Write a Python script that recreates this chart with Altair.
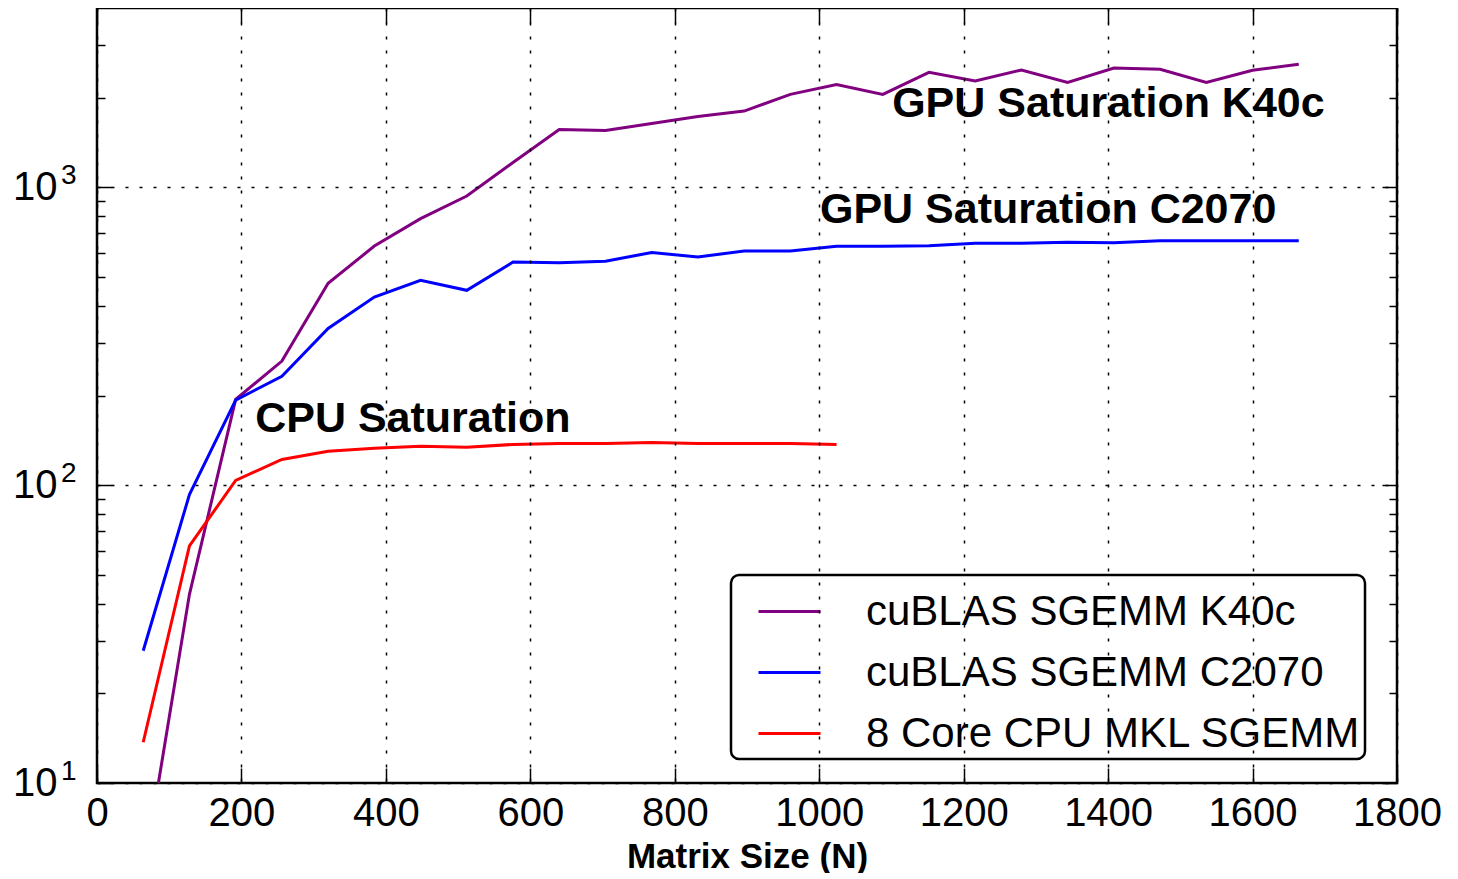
import altair as alt
import pandas as pd

# ---- data ----
sizes = [64, 128, 192, 256, 320, 384, 448, 512, 576, 640, 704, 768, 832, 896, 960,
         1024, 1088, 1152, 1216, 1280, 1344, 1408, 1472, 1536, 1600, 1664]
k40c = [4.9, 43, 194, 261, 476, 635, 785, 935, 1211, 1563, 1552, 1637, 1730, 1803, 2051,
        2212, 2051, 2432, 2275, 2477, 2249, 2515, 2490, 2249, 2472, 2588]
c2070 = [27.8, 93, 193, 232, 336, 428, 487, 451, 561, 558, 565, 604, 584, 611, 611,
         634, 634, 636, 649, 649, 654, 652, 661, 661, 662, 661]
cpu_sizes = [64, 128, 192, 256, 320, 384, 448, 512, 576, 640, 704, 768, 832, 896, 960, 1024]
cpu = [13.7, 62.5, 103.7, 122, 130, 133, 135, 134, 137, 138, 138, 139, 138, 138, 138, 137]

series_names = ["cuBLAS SGEMM K40c", "cuBLAS SGEMM C2070", "8 Core CPU MKL SGEMM"]
series_colors = ["#800080", "#0000ff", "#ff0000"]

x_ticks = [0, 200, 400, 600, 800, 1000, 1200, 1400, 1600, 1800]
y_major = [10, 100, 1000]
y_minor = [20, 30, 40, 50, 60, 70, 80, 90, 200, 300, 400, 500, 600, 700, 800, 900, 2000, 3000]

ann_text = ["GPU Saturation K40c", "GPU Saturation C2070", "CPU Saturation"]
ann_x = [1101, 1001, 219]
ann_y = [1718, 757, 151]

# ---- tables ----
rows = []
for name, xs_, vals in zip(series_names, [sizes, sizes, cpu_sizes], [k40c, c2070, cpu]):
    for n, v in zip(xs_, vals):
        rows.append({"N": n, "G": v, "series": name})
df = pd.DataFrame(rows)
ann = pd.DataFrame({"N": ann_x, "G": ann_y, "label": ann_text})

FONT = "Liberation Sans"
xs = alt.Scale(domain=[0, 1800], nice=False, zero=False)
ys = alt.Scale(type="log", domain=[10, 4000], nice=False)
grid_dash = [3, 11]

lines = alt.Chart(df).mark_line(clip=True, strokeWidth=3).encode(
    x=alt.X("N:Q", scale=xs, axis=alt.Axis(
        orient="bottom", values=x_ticks, format="d", grid=True, gridColor="black",
        gridDash=grid_dash, gridWidth=1.5, gridOpacity=1, ticks=False, domain=False,
        labelFontSize=40, labelFont=FONT, labelColor="black", labelPadding=10,
        labelFlush=False, labelOverlap=False,
        title="Matrix Size (N)", titleFont=FONT, titleFontSize=35, titleFontWeight="bold",
        titleColor="black", titlePadding=6, zindex=1)),
    y=alt.Y("G:Q", scale=ys, axis=alt.Axis(
        orient="left", values=y_major, labelExpr="'10'", grid=True, gridColor="black",
        gridDash=grid_dash, gridWidth=1.5, gridOpacity=1, ticks=False, domain=False,
        labelFontSize=40, labelFont=FONT, labelColor="black", labelPadding=40,
        labelFlush=False, labelOverlap=False, title=None, zindex=1)),
    color=alt.Color("series:N", scale=alt.Scale(domain=series_names, range=series_colors),
                    legend=alt.Legend(
                        orient="none", legendX=634, legendY=567, title=None,
                        symbolType="stroke", symbolSize=3844, symbolStrokeWidth=3,
                        labelFontSize=42, labelFont=FONT, labelColor="black",
                        strokeColor="black", cornerRadius=8, fillColor="white",
                        padding=4, rowPadding=7, labelOffset=44, symbolOffset=22,
                        labelLimit=1000)),
)

text = alt.Chart(ann).mark_text(
    align="left", baseline="alphabetic", font=FONT, fontSize=43, fontWeight="bold", color="black"
).encode(
    x=alt.X("N:Q", scale=xs, axis=None),
    y=alt.Y("G:Q", scale=ys, axis=None),
    text="label:N",
)

exp_layer = alt.Chart(df).mark_line(strokeOpacity=0).encode(
    x=alt.X("N:Q", scale=xs, axis=None),
    y=alt.Y("G:Q", scale=ys, axis=alt.Axis(
        orient="left", values=y_major, labelExpr="'' + round(log(datum.value) / LN10)",
        ticks=False, domain=False, grid=False, labelFontSize=28, labelFont=FONT,
        labelColor="black", labelPadding=21, labelOffset=-12, labelFlush=False,
        labelOverlap=False, title=None)),
    detail="series:N",
)


def tick_axis(orient, vals, size):
    return alt.Axis(orient=orient, values=vals, offset=-size, tickSize=size, tickWidth=1.5,
                    tickColor="black", labels=False, domain=False, grid=False, title=None)


def tick_layer(xaxis, yaxis):
    return alt.Chart(df).mark_line(strokeOpacity=0).encode(
        x=alt.X("N:Q", scale=xs, axis=xaxis),
        y=alt.Y("G:Q", scale=ys, axis=yaxis),
        detail="series:N",
    )


t1 = tick_layer(tick_axis("bottom", x_ticks, 15), tick_axis("left", y_major, 15))
t2 = tick_layer(tick_axis("top", x_ticks, 15), tick_axis("left", y_minor, 8))
t3 = tick_layer(None, tick_axis("right", y_major, 15))
t4 = tick_layer(None, tick_axis("right", y_minor, 8))

chart = alt.layer(lines, text, exp_layer, t1, t2, t3, t4).resolve_axis(
    x="independent", y="independent"
).properties(
    width=1300, height=775,
    padding={"left": 89, "top": 0, "right": 50, "bottom": 90},
    autosize=alt.AutoSizeParams(type="none"),
).configure(font=FONT).configure_view(stroke="black", strokeWidth=2.5).configure_legend(strokeWidth=2.5)

chart.save("out.html", embed_options={"renderer": "svg", "actions": False})
